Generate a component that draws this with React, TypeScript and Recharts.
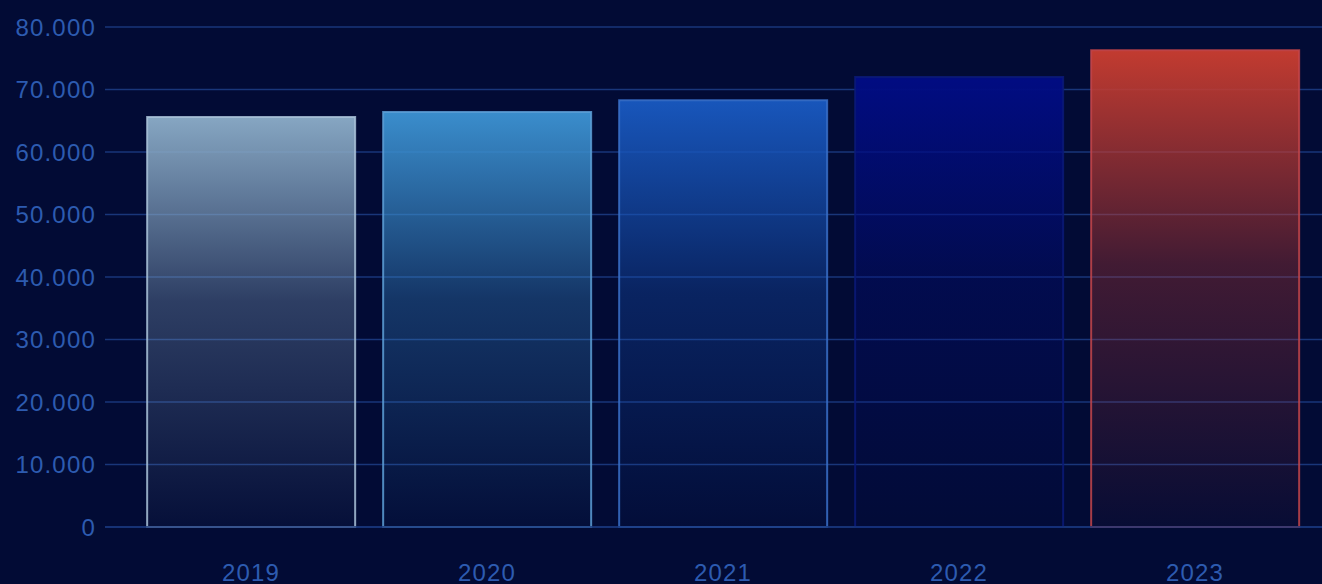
import { BarChart, Bar, XAxis, YAxis, CartesianGrid, Cell } from 'recharts';

const years = ['2019', '2020', '2021', '2022', '2023'];
const values = [65600, 66400, 68300, 72000, 76300];
const yTicks = [0, 10000, 20000, 30000, 40000, 50000, 60000, 70000, 80000];

// top colour / edge colour per bar
const topColors = ['#86a6c2', '#3a8dcc', '#1856bb', '#010c82', '#c23b30'];
const edgeColors = ['#a9c2d8', '#5d9fd6', '#3a70c8', '#0b1a78', '#c4454a'];

const data = years.map((year, i) => ({ year, value: values[i] }));

const axisText = { fontSize: 24, fill: '#2d5bb0', fontFamily: 'Liberation Sans, Arial, sans-serif', letterSpacing: 1.2 };

const formatThousands = (v: number) => v.toLocaleString('de-DE');

export default function App() {
  return (
    <div style={{ width: 1322, height: 584, background: '#020b35', overflow: 'hidden' }}>
      <style>{'body{margin:0;background:#020b35}'}</style>
      <BarChart
        width={1322}
        height={584}
        data={data}
        margin={{ top: 27, right: 0, bottom: 0, left: 0 }}
        barCategoryGap="6%"
      >
        <defs>
          {topColors.map((c, i) => (
            <linearGradient key={i} id={`barGrad${i}`} x1="0" y1="0" x2="0" y2="1">
              <stop offset="0%" stopColor={c} stopOpacity={1} />
              <stop offset="45%" stopColor={c} stopOpacity={0.33} />
              <stop offset="100%" stopColor={c} stopOpacity={0.03} />
            </linearGradient>
          ))}
        </defs>
        <CartesianGrid stroke="#19367a" strokeWidth={1.5} vertical={false} />
        <XAxis
          dataKey="year"
          height={57}
          axisLine={{ stroke: '#19367a', strokeWidth: 1.5 }}
          tickLine={false}
          tickSize={0}
          tickMargin={37}
          padding={{ left: 28, right: 9 }}
          tick={axisText}
        />
        <YAxis
          width={105}
          domain={[0, 80000]}
          ticks={yTicks}
          tickFormatter={formatThousands}
          axisLine={false}
          tickLine={false}
          tickSize={0}
          tickMargin={9}
          tick={axisText}
        />
        <Bar dataKey="value" isAnimationActive={false} strokeWidth={2}>
          {data.map((_, i) => (
            <Cell key={i} fill={`url(#barGrad${i})`} stroke={edgeColors[i]} strokeOpacity={0.85} />
          ))}
        </Bar>
      </BarChart>
    </div>
  );
}
